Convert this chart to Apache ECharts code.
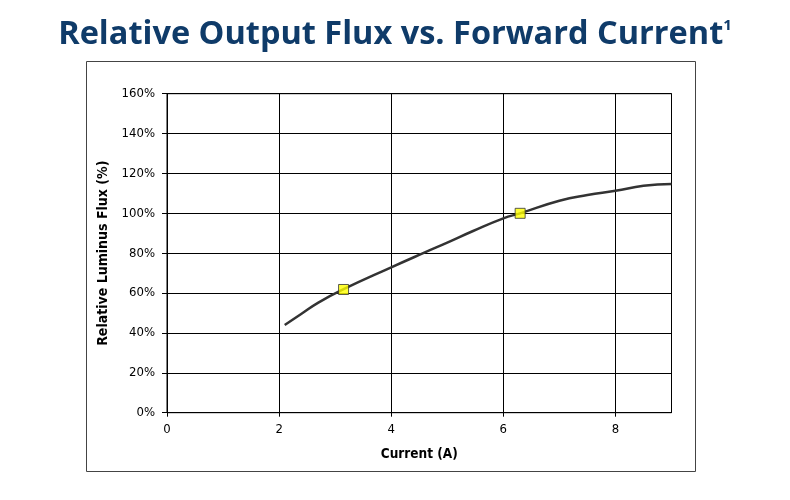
<!DOCTYPE html>
<html>
<head>
<meta charset="utf-8">
<script src="https://cdn.jsdelivr.net/npm/echarts@6/dist/echarts.min.js"></script>
<style>
html,body{margin:0;padding:0;background:#fff;}
#chart{width:790px;height:500px;}
</style>
</head>
<body>
<div id="chart"></div>
<script>
// Curve: forward current (A) vs relative luminous flux (%)
const currentA = [2.1, 2.4, 2.7, 3.14, 4.0, 4.6, 5.0, 5.45, 6.0, 6.3, 7.0, 7.5, 8.0, 8.5, 9.0];
const fluxPct  = [44, 49.6, 55.2, 61.8, 72.9, 80.4, 85.3, 91, 97.5, 100, 106.3, 109.2, 111.3, 113.8, 114.7];
// Highlighted points
const markerCurrent = [3.15, 6.3];
const markerFlux = [61.8, 100];
const xTicks = [0, 2, 4, 6, 8];
const yTicks = [0, 20, 40, 60, 80, 100, 120, 140, 160];

const titleText = 'Relative Output Flux vs. Forward Current';

const chart = echarts.init(document.getElementById('chart'), null, {renderer: 'canvas'});
const lineData = currentA.map((x, i) => [x, fluxPct[i]]);
const markData = markerCurrent.map((x, i) => [x, markerFlux[i]]);

chart.setOption({
  animation: false,
  backgroundColor: '#fff',
  title: {
    text: titleText + '{sup|1}',
    left: 'center',
    top: 13,
    textStyle: {
      fontFamily: 'Open Sans',
      fontWeight: 'bold',
      fontSize: 32.5,
      color: '#0f3b69',
      rich: {
        sup: {fontFamily: 'Open Sans', fontWeight: 'bold', fontSize: 15, color: '#0f3b69', verticalAlign: 'top', padding: [0, 0, 16, 0]}
      }
    }
  },
  graphic: [{
    type: 'rect',
    shape: {x: 86.5, y: 61.5, width: 609, height: 410},
    style: {fill: 'none', stroke: '#444', lineWidth: 1},
    silent: true,
    z: -1
  }],
  grid: {
    left: 167, right: 118.5, top: 93.7, bottom: 87.3,
    show: true, borderColor: '#000', borderWidth: 1, backgroundColor: 'transparent'
  },
  xAxis: {
    type: 'value',
    min: 0, max: 9, interval: 2,
    name: 'Current (A)',
    nameLocation: 'middle',
    nameGap: 35,
    nameTextStyle: {fontFamily: 'DejaVu Sans Condensed', fontWeight: 'bold', fontSize: 13.5, color: '#000'},
    axisLine: {show: true, lineStyle: {color: '#000', width: 1}},
    axisTick: {show: true, length: 4, lineStyle: {color: '#000'}},
    axisLabel: {fontFamily: 'DejaVu Sans Condensed', fontSize: 13, color: '#000', margin: 10, showMaxLabel: false,
      formatter: v => xTicks.includes(v) ? String(v) : ''},
    splitLine: {show: true, lineStyle: {color: '#000', width: 1}}
  },
  yAxis: {
    type: 'value',
    min: 0, max: 160, interval: 20,
    name: 'Relative Luminus Flux (%)',
    nameLocation: 'middle',
    nameGap: 55,
    nameRotate: 90,
    nameTextStyle: {fontFamily: 'DejaVu Sans Condensed', fontWeight: 'bold', fontSize: 14, color: '#000'},
    axisLine: {show: true, lineStyle: {color: '#000', width: 1}},
    axisTick: {show: true, length: 5, lineStyle: {color: '#000'}},
    axisLabel: {fontFamily: 'DejaVu Sans Condensed', fontSize: 13, color: '#000', margin: 12,
      formatter: v => yTicks.includes(v) ? v + '%' : ''},
    splitLine: {show: true, lineStyle: {color: '#000', width: 1}}
  },
  series: [
    {
      type: 'line',
      data: lineData,
      smooth: true,
      showSymbol: false,
      lineStyle: {color: '#333', width: 2.5},
      z: 3
    },
    {
      type: 'scatter',
      data: markData,
      symbol: 'rect',
      symbolSize: 10,
      itemStyle: {color: '#ffff00', borderColor: '#333', borderWidth: 1},
      z: 4
    }
  ]
});
</script>
</body>
</html>
